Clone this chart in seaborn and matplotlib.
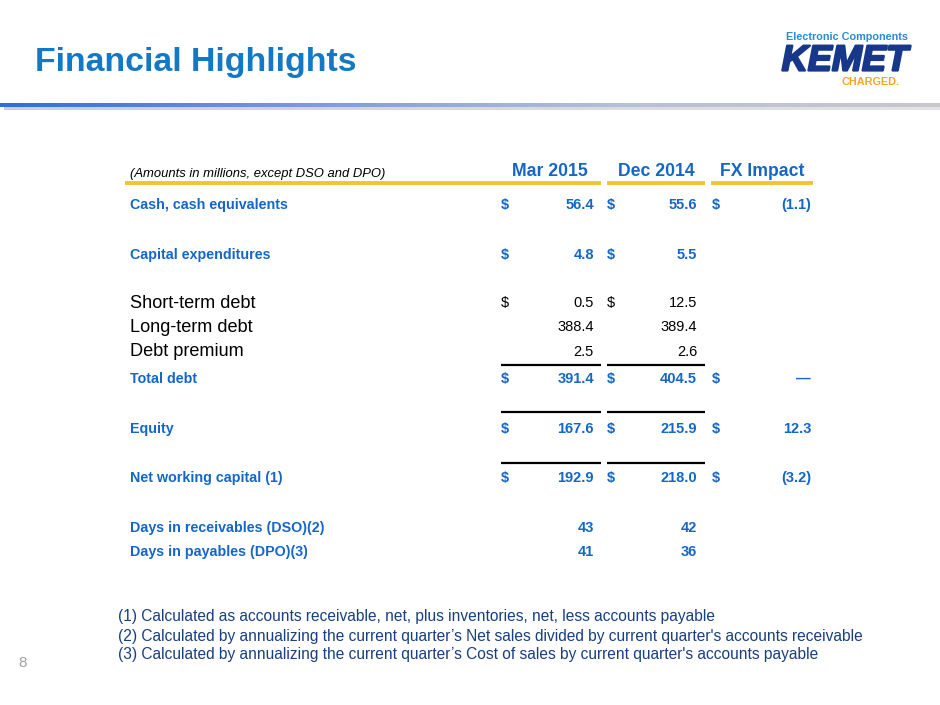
import numpy as np
import matplotlib
matplotlib.use("Agg")
import matplotlib.pyplot as plt
import matplotlib.patheffects as pe
from matplotlib.colors import LinearSegmentedColormap
import seaborn as sns

# table content
col_headers = ["Mar 2015", "Dec 2014", "FX Impact"]
row_labels = ["Cash, cash equivalents", "Capital expenditures", "Short-term debt",
              "Long-term debt", "Debt premium", "Total debt", "Equity",
              "Net working capital (1)", "Days in receivables (DSO)(2)",
              "Days in payables (DPO)(3)"]
mar_2015 = ["56.4", "4.8", "0.5", "388.4", "2.5", "391.4", "167.6", "192.9", "43", "41"]
dec_2014 = ["55.6", "5.5", "12.5", "389.4", "2.6", "404.5", "215.9", "218.0", "42", "36"]
fx_impact = ["(1.1)", "", "", "", "", "\u2014", "12.3", "(3.2)", "", ""]
dollar_mar = [True, True, True, False, False, True, True, True, False, False]
dollar_dec = [True, True, True, False, False, True, True, True, False, False]
dollar_fx = [True, False, False, False, False, True, True, True, False, False]
highlight = [True, True, False, False, False, True, True, True, True, True]
footnotes = [
    "(1) Calculated as accounts receivable, net, plus inventories, net, less accounts payable",
    "(2) Calculated by annualizing the current quarter\u2019s Net sales divided by current quarter's accounts receivable",
    "(3) Calculated by annualizing the current quarter\u2019s Cost of sales by current quarter's accounts payable",
]

sns.set_theme(style="white")
plt.rcParams['font.family'] = ['Liberation Sans', 'DejaVu Sans']

BLUE = "#1467C8"
TITLE_BLUE = "#1379C6"
NAVY = "#183F7E"
YELLOW = "#F5C232"

fig = plt.figure(figsize=(9.4, 7.05), dpi=100)
ax = fig.add_axes([0, 0, 1, 1])

# title and header rule
ax.text(35, 62, "Financial Highlights", fontsize=24.4, fontweight="bold",
        color=TITLE_BLUE, va="center", ha="left")
grad = LinearSegmentedColormap.from_list("rule", ["#2F6ED6", "#7D9BE0", "#B8C0D8", "#C8C8CC"])
ax.imshow(np.linspace(0, 1, 256).reshape(1, -1), cmap=grad, aspect="auto",
          extent=(0, 940, 107, 103), zorder=2)
ax.imshow(np.linspace(0, 1, 256).reshape(1, -1),
          cmap=LinearSegmentedColormap.from_list("sh", ["#B8B8C8", "#D8D8D8"]),
          aspect="auto", extent=(4, 940, 110, 107), zorder=1, alpha=0.7)
ax.set_xlim(0, 940)
ax.set_ylim(705, 0)
ax.axis("off")

# logo
ax.text(847, 37, "Electronic Components", fontsize=7.8, fontweight="bold",
        color="#2B8AD8", ha="center", va="center")
ax.text(845, 61, "KEMET", fontsize=26, fontweight="bold", fontstyle="italic",
        color="#16378A", ha="center", va="center",
        path_effects=[pe.withStroke(linewidth=1.6, foreground="#16378A")])
ax.text(871, 82, "CHARGED.", fontsize=7.8, fontweight="bold",
        color="#F2A623", ha="center", va="center")

# column headers
ax.text(130, 174, "(Amounts in millions, except DSO and DPO)", fontsize=9.4,
        fontstyle="italic", color="black", va="center", ha="left")
for x, h in zip([550, 656, 762], col_headers):
    ax.text(x, 171, h, fontsize=12.7, fontweight="bold", color=BLUE,
            ha="center", va="center")
ax.hlines([183, 183, 183], [125, 607, 711], [601, 705, 813], colors=YELLOW, linewidth=2.8)

# rows
row_y = [205, 255, 303, 327, 352, 379, 429, 478, 528, 552]
for i, y in enumerate(row_y):
    hi = highlight[i]
    col = BLUE if hi else "black"
    weight = "bold" if hi else "normal"
    lab_size = 10.3 if hi else 13.1
    num_size = 10.5 if hi else 10.5
    ax.text(130, y, row_labels[i], fontsize=lab_size, fontweight=weight,
            color=col, va="center", ha="left")
    for xs, xv, flag, val in [(501, 594, dollar_mar[i], mar_2015[i]),
                              (607, 697, dollar_dec[i], dec_2014[i]),
                              (712, 811, dollar_fx[i], fx_impact[i])]:
        if flag:
            ax.text(xs, y, "$", fontsize=num_size, fontweight=weight,
                    color=col, va="center", ha="left")
        if val:
            ax.text(xv, y, val, fontsize=num_size, fontweight=weight,
                    color=col, va="center", ha="right")

# black subtotal rules
for ry in [365, 412, 463]:
    ax.hlines([ry, ry], [501, 607], [601, 705], colors="black", linewidth=1.6)

# footnotes
for y, t in zip([617, 636, 655], footnotes):
    ax.text(118, y, t, fontsize=11.2, color=NAVY, va="center", ha="left")

ax.text(18, 663, "8", fontsize=11, color="#A0A0A0", va="center", ha="left")

fig.savefig("out.png", dpi=100)
